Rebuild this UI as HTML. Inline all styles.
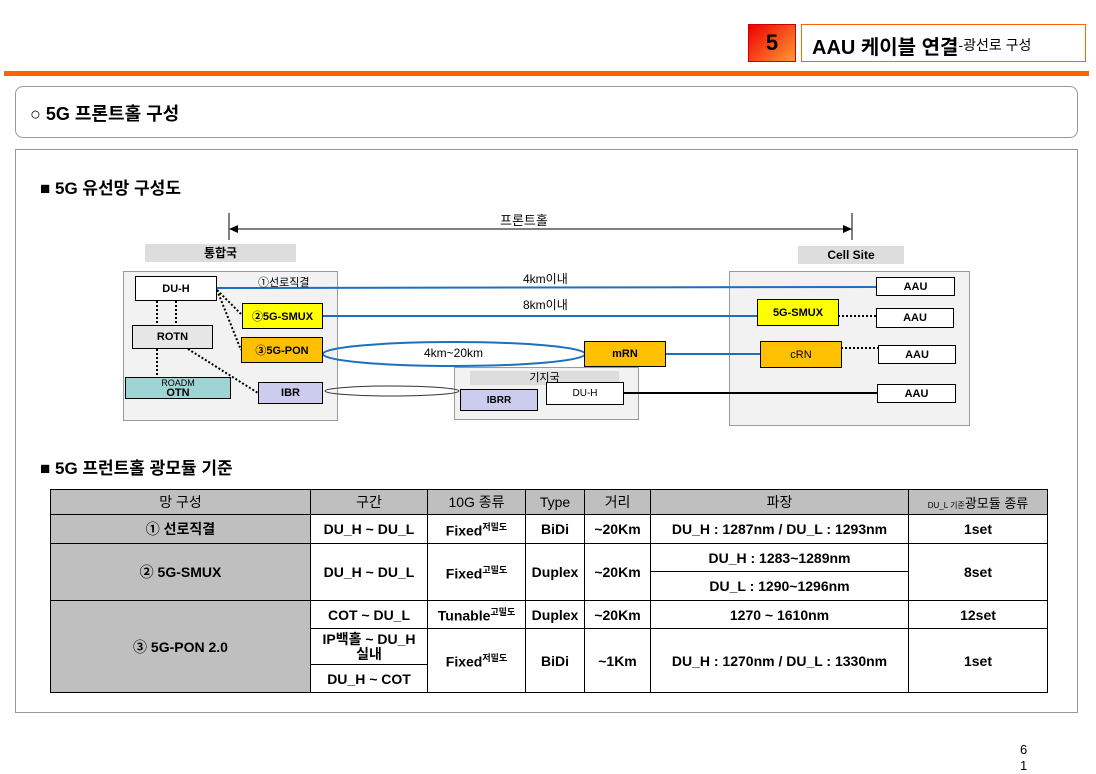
<!DOCTYPE html>
<html><head><meta charset="utf-8"><style>
body{margin:0;width:1096px;height:767px;background:#fff;position:relative;overflow:hidden;font-family:"Liberation Sans","Noto Sans CJK KR",sans-serif;}
.a{position:absolute;box-sizing:border-box;}
.b{position:absolute;box-sizing:border-box;border:1px solid #000;display:flex;align-items:center;justify-content:center;font-size:11px;font-weight:bold;}
table{position:absolute;left:50px;top:489px;border-collapse:collapse;font-size:14px;font-weight:bold;}
td{border:1px solid #000;text-align:center;padding:0;}
sup{font-size:9px;}
</style></head><body>
<div class="a" style="left:748px;top:24px;width:48px;height:38px;background:linear-gradient(135deg,#e00,#f93);border:1px solid #c00;font-size:22px;font-weight:bold;display:flex;align-items:center;justify-content:center;">5</div>
<div class="a" style="left:801px;top:24px;width:285px;height:38px;border:1px solid #f60;font-size:20px;font-weight:bold;padding:6px 0 0 10px;">AAU 케이블 연결<span style="font-size:14px;font-weight:normal;position:relative;top:-4px">-광선로 구성</span></div>
<div class="a" style="left:4px;top:71px;width:1085px;height:5px;background:#f60;"></div>
<div class="a" style="left:15px;top:86px;width:1063px;height:52px;border:1px solid #999;border-radius:8px;font-size:18px;font-weight:bold;padding:13px 0 0 14px;">○ 5G 프론트홀 구성</div>
<div class="a" style="left:15px;top:149px;width:1063px;height:564px;border:1px solid #999;"></div>
<div class="a" style="left:40px;top:174px;font-size:17px;font-weight:bold;">■ 5G 유선망 구성도</div>
<div class="a" style="left:40px;top:454px;font-size:17px;font-weight:bold;">■ 5G 프런트홀 광모듈 기준</div>

<div class="a" style="left:500px;top:210px;font-size:13px;">프론트홀</div>
<div class="a" style="left:145px;top:244px;width:151px;height:18px;background:#ddd;font-size:12px;font-weight:bold;text-align:center;line-height:18px;">통합국</div>
<div class="a" style="left:798px;top:246px;width:106px;height:18px;background:#ddd;font-size:12px;font-weight:bold;text-align:center;line-height:18px;">Cell Site</div>

<div class="a" style="left:123px;top:271px;width:215px;height:150px;background:#f2f2f2;border:1px solid #999;"></div>
<div class="a" style="left:729px;top:271px;width:241px;height:155px;background:#f2f2f2;border:1px solid #999;"></div>
<div class="a" style="left:454px;top:367px;width:185px;height:53px;background:#f2f2f2;border:1px solid #999;"></div>
<div class="a" style="left:470px;top:371px;width:149px;height:14px;background:#ddd;font-size:11px;text-align:center;line-height:14px;">기지국</div>

<svg class="a" style="left:0;top:0" width="1096" height="767">
<line x1="229" y1="213" x2="229" y2="240" stroke="#000"/><line x1="852" y1="213" x2="852" y2="240" stroke="#000"/>
<line x1="236" y1="229" x2="845" y2="229" stroke="#000"/>
<polygon points="229,229 238,225 238,233"/><polygon points="852,229 843,225 843,233"/>
<g stroke="#1f6fbf" stroke-width="2" fill="none">
<line x1="217" y1="288" x2="876" y2="287"/>
<line x1="323" y1="316" x2="757" y2="316"/>
<line x1="665" y1="354" x2="760" y2="354"/>
<ellipse cx="454" cy="354" rx="131" ry="12"/>
</g>
<ellipse cx="392" cy="391" rx="67" ry="5" stroke="#333" fill="none"/>
<line x1="623" y1="393" x2="877" y2="393" stroke="#000" stroke-width="2"/>
<g stroke="#000" stroke-width="2" stroke-dasharray="2,2" fill="none">
<line x1="157" y1="301" x2="157" y2="325"/><line x1="176" y1="301" x2="176" y2="325"/>
<line x1="157" y1="349" x2="157" y2="378"/>
<line x1="217" y1="290" x2="242" y2="315"/><line x1="217" y1="290" x2="241" y2="350"/>
<line x1="188" y1="349" x2="258" y2="393"/>
<line x1="838" y1="316" x2="876" y2="316"/><line x1="841" y1="348" x2="878" y2="348"/>
</g>
</svg>
<div class="a" style="left:258px;top:274px;font-size:11px;">①선로직결</div>
<div class="a" style="left:523px;top:270px;font-size:12px;">4km이내</div>
<div class="a" style="left:523px;top:296px;font-size:12px;">8km이내</div>
<div class="a" style="left:424px;top:346px;font-size:12px;">4km~20km</div>

<div class="b" style="left:135px;top:276px;width:82px;height:25px;background:#fff;">DU-H</div>
<div class="b" style="left:132px;top:325px;width:81px;height:24px;background:#e6e6e6;">ROTN</div>
<div class="b" style="left:125px;top:377px;width:106px;height:22px;background:#9fd4d4;flex-direction:column;line-height:10px;font-size:11px;"><span style="font-size:9px;font-weight:normal">ROADM</span>OTN</div>
<div class="b" style="left:242px;top:303px;width:81px;height:26px;background:#ff0;">②5G-SMUX</div>
<div class="b" style="left:241px;top:337px;width:82px;height:26px;background:#ffc000;">③5G-PON</div>
<div class="b" style="left:258px;top:382px;width:65px;height:22px;background:#ccccee;">IBR</div>
<div class="b" style="left:584px;top:341px;width:82px;height:26px;background:#ffc000;">mRN</div>
<div class="b" style="left:460px;top:389px;width:78px;height:22px;background:#ccccee;font-size:10px;">IBRR</div>
<div class="b" style="left:546px;top:382px;width:78px;height:23px;background:#fff;font-size:10px;font-weight:normal;">DU-H</div>
<div class="b" style="left:757px;top:299px;width:82px;height:27px;background:#ff0;">5G-SMUX</div>
<div class="b" style="left:760px;top:341px;width:82px;height:27px;background:#ffc000;font-weight:normal;">cRN</div>
<div class="b" style="left:876px;top:277px;width:79px;height:19px;background:#fff;">AAU</div>
<div class="b" style="left:876px;top:308px;width:78px;height:20px;background:#fff;">AAU</div>
<div class="b" style="left:878px;top:345px;width:78px;height:19px;background:#fff;">AAU</div>
<div class="b" style="left:877px;top:384px;width:79px;height:19px;background:#fff;">AAU</div>

<table>
<tr style="height:25px;background:#bfbfbf;font-weight:normal"><td style="width:259px">망 구성</td><td style="width:116px">구간</td><td style="width:97px">10G 종류</td><td style="width:58px">Type</td><td style="width:65px">거리</td><td style="width:257px">파장</td><td style="width:138px;font-size:13px"><span style="font-size:8px">DU_L 기준</span>광모듈 종류</td></tr>
<tr style="height:29px"><td style="background:#bfbfbf">① 선로직결</td><td>DU_H ~ DU_L</td><td>Fixed<sup>저밀도</sup></td><td>BiDi</td><td>~20Km</td><td>DU_H : 1287nm / DU_L : 1293nm</td><td>1set</td></tr>
<tr style="height:28px"><td rowspan="2" style="background:#bfbfbf">② 5G-SMUX</td><td rowspan="2">DU_H ~ DU_L</td><td rowspan="2">Fixed<sup>고밀도</sup></td><td rowspan="2">Duplex</td><td rowspan="2">~20Km</td><td>DU_H : 1283~1289nm</td><td rowspan="2">8set</td></tr>
<tr style="height:29px"><td>DU_L : 1290~1296nm</td></tr>
<tr style="height:28px"><td rowspan="3" style="background:#bfbfbf">③ 5G-PON 2.0</td><td>COT ~ DU_L</td><td>Tunable<sup>고밀도</sup></td><td>Duplex</td><td>~20Km</td><td>1270 ~ 1610nm</td><td>12set</td></tr>
<tr style="height:36px"><td style="line-height:15px">IP백홀 ~ DU_H<br>실내</td><td rowspan="2">Fixed<sup>저밀도</sup></td><td rowspan="2">BiDi</td><td rowspan="2">~1Km</td><td rowspan="2">DU_H : 1270nm / DU_L : 1330nm</td><td rowspan="2">1set</td></tr>
<tr style="height:28px"><td>DU_H ~ COT</td></tr>
</table>
<div class="a" style="left:1020px;top:742px;font-size:13px;line-height:16px;">6<br>1</div>
</body></html>
